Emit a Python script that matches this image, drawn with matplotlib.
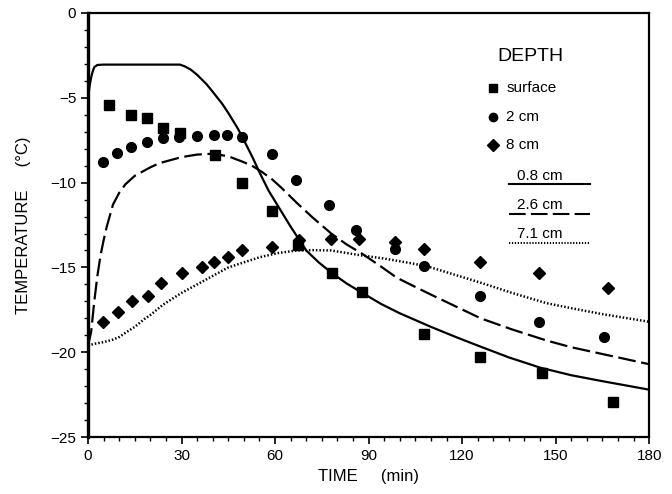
import matplotlib
matplotlib.use("Agg")
import matplotlib.pyplot as plt
from matplotlib.ticker import MultipleLocator

plt.rcParams['font.family'] = ['Liberation Sans', 'DejaVu Sans']

# measured points (time in min, temperature in degC)
surf_t = [6.7, 13.8, 18.9, 24.1, 29.5, 40.7, 49.4, 59.0, 67.4, 78.3, 87.9, 107.8, 125.8, 145.7, 168.4]
surf_T = [-5.4, -6.0, -6.2, -6.8, -7.1, -8.4, -10.0, -11.7, -13.7, -15.3, -16.45, -18.9, -20.3, -21.2, -22.9]

cm2_t = [4.8, 9.3, 13.8, 18.9, 24.1, 29.2, 35.0, 40.4, 44.6, 49.4, 59.0, 66.7, 77.3, 86.0, 98.5, 107.8, 125.8, 144.7, 165.5]
cm2_T = [-8.8, -8.25, -7.9, -7.6, -7.4, -7.3, -7.25, -7.2, -7.2, -7.3, -8.3, -9.85, -11.3, -12.8, -13.9, -14.9, -16.7, -18.2, -19.1]

cm8_t = [4.8, 9.6, 14.1, 19.2, 23.4, 30.2, 36.6, 40.4, 44.9, 49.4, 59.0, 67.7, 78.0, 86.9, 98.5, 107.8, 125.8, 144.7, 166.8]
cm8_T = [-18.2, -17.6, -17.0, -16.7, -15.9, -15.3, -15.0, -14.7, -14.4, -14.0, -13.8, -13.4, -13.3, -13.3, -13.5, -13.9, -14.7, -15.3, -16.2]

# model curves
c08_t = [0, 0.5, 1, 1.5, 2, 3, 5, 29.5, 31, 33, 35, 38, 40, 43, 45, 48, 50, 53, 55, 58, 60, 63, 65, 70,
         74, 78, 83, 88, 94, 100, 110, 118, 125, 135, 145, 155, 165, 180]
c08_T = [-5.1, -4.3, -3.8, -3.45, -3.2, -3.07, -3.05, -3.05, -3.15, -3.35, -3.65, -4.2, -4.65, -5.35, -5.9, -6.8,
         -7.5, -8.6, -9.4, -10.5, -11.1, -12.0, -12.6, -14.0, -14.7, -15.3, -15.95, -16.5, -17.15, -17.7,
         -18.5, -19.1, -19.6, -20.3, -20.9, -21.35, -21.7, -22.2]

c26_t = [0, 1, 2, 3, 4, 5, 6, 8, 10, 12, 15, 18, 20, 23, 26, 30, 35, 40, 45, 50, 53, 56, 59, 62, 67,
         72, 78, 83, 88, 94, 99, 105, 110, 118, 126, 136, 147, 155, 165, 180]
c26_T = [-19.6, -18.8, -17.0, -15.5, -14.3, -13.4, -12.6, -11.3, -10.6, -10.1, -9.6, -9.3, -9.1, -8.85, -8.7,
         -8.5, -8.35, -8.3, -8.45, -8.8, -9.05, -9.4, -9.8, -10.3, -11.2, -12.05, -13.0, -13.65, -14.2,
         -14.95, -15.6, -16.15, -16.6, -17.3, -18.0, -18.65, -19.3, -19.7, -20.1, -20.7]

c71_t = [0, 2, 5, 8, 10, 12, 15, 18, 20, 24, 27, 30, 35, 40, 45, 50, 55, 61, 67, 72, 78, 83, 88,
         94, 99, 105, 110, 118, 126, 136, 147, 155, 165, 180]
c71_T = [-19.6, -19.5, -19.4, -19.25, -19.1, -18.85, -18.5, -18.05, -17.8, -17.2, -16.85, -16.5, -16.0,
         -15.5, -15.0, -14.7, -14.4, -14.15, -14.0, -13.98, -14.0, -14.15, -14.3, -14.45, -14.6, -14.8,
         -15.0, -15.45, -15.9, -16.5, -17.1, -17.4, -17.75, -18.2]

fig = plt.figure(figsize=(6.72, 4.94), dpi=100)
ax = fig.add_axes([0.131, 0.115, 0.835, 0.859])

ax.plot(c08_t, c08_T, color='black', lw=1.6, solid_joinstyle='round')
ax.plot(c26_t, c26_T, color='black', lw=1.6, dashes=(8, 2.5))
ax.plot(c71_t, c71_T, color='black', lw=1.8, dashes=(0.6, 0.8))

ax.plot(surf_t, surf_T, 's', color='black', ms=6.8)
ax.plot(cm2_t, cm2_T, 'o', color='black', ms=7)
ax.plot(cm8_t, cm8_T, 'D', color='black', ms=6.5)

ax.set_xlim(0, 180)
ax.set_ylim(-25, 0)
ax.xaxis.set_major_locator(MultipleLocator(30))
ax.xaxis.set_minor_locator(MultipleLocator(5))
ax.yaxis.set_major_locator(MultipleLocator(5))
ax.yaxis.set_minor_locator(MultipleLocator(1))
ax.tick_params(which='major', direction='out', length=5, width=1.2, labelsize=11)
ax.tick_params(which='minor', direction='out', length=3, width=1.0)
for s in ax.spines.values():
    s.set_linewidth(1.6)
ax.spines['left'].set_linewidth(2.4)

ax.set_xlabel('TIME     (min)', fontsize=12, labelpad=4)
ax.set_ylabel('TEMPERATURE     (°C)', fontsize=12, labelpad=14)

# legend drawn by hand, in axes fractions
tr = ax.transAxes
ax.text(0.789, 0.897, 'DEPTH', transform=tr, fontsize=14, ha='center', va='center')
for yy, mk, lab in [(0.823, 's', 'surface'), (0.755, 'o', '2 cm'), (0.689, 'D', '8 cm')]:
    ax.plot([0.722], [yy], mk, color='black', ms=6, transform=tr, clip_on=False)
    ax.text(0.745, yy, lab, transform=tr, fontsize=11, va='center')
line_items = [(0.616, 0.5955, '0.8 cm', {}),
              (0.547, 0.526, '2.6 cm', {'dashes': (8, 2.5)}),
              (0.479, 0.458, '7.1 cm', {'dashes': (0.6, 0.8)})]
for ty, ly, lab, sty in line_items:
    ax.text(0.805, ty, lab, transform=tr, fontsize=11, ha='center', va='center')
    ax.plot([0.750, 0.895], [ly, ly], color='black', lw=1.5, transform=tr, **sty)

fig.savefig('out.png', dpi=100)
